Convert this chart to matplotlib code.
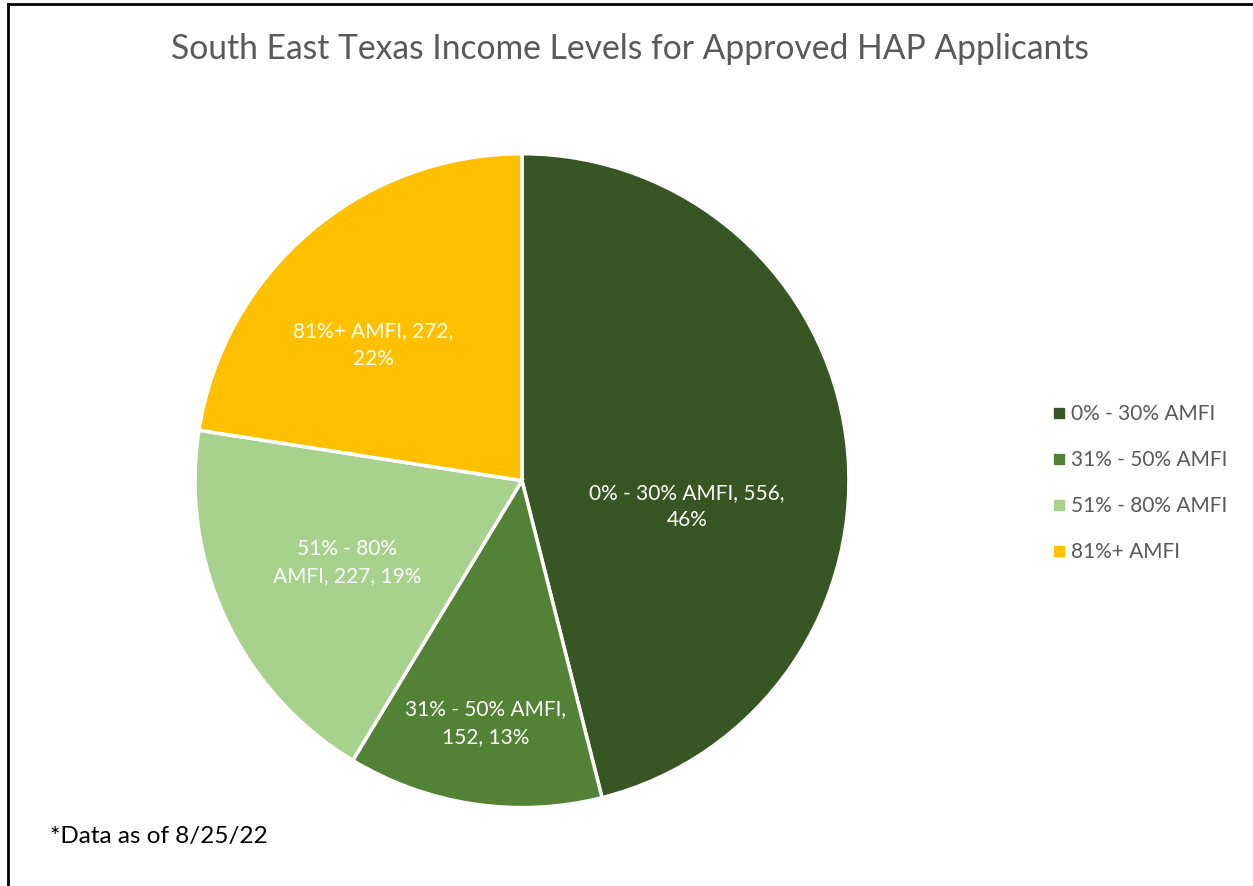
import numpy as np
from matplotlib import pyplot as plt
from matplotlib.lines import Line2D

plt.rcParams['font.family'] = ['Lato', 'DejaVu Sans']

categories = ['0% - 30% AMFI', '31% - 50% AMFI', '51% - 80% AMFI', '81%+ AMFI']
counts = [556, 152, 227, 272]
pct_labels = ['46%', '13%', '19%', '22%']
colors = ['#375623', '#538135', '#A9D18E', '#FFC000']

# label text (line breaks like the excel data labels)
label_text = ['0% - 30% AMFI, 556,\n46%',
              '31% - 50% AMFI,\n152, 13%',
              '51% - 80%\nAMFI, 227, 19%',
              '81%+ AMFI, 272,\n22%']
# placement of labels (fraction of radius, angle nudge in degrees)
label_r = [0.51, 0.75, 0.59, 0.615]
label_nudge = [-16, 0, 0, 7]

fig = plt.figure(figsize=(12.53, 8.86), dpi=100)
ax = fig.add_axes([0.1556, 0.0885, 0.522, 0.738])

wedges, _ = ax.pie(counts, colors=colors, startangle=90, counterclock=False,
                   wedgeprops=dict(edgecolor='white', linewidth=2.5))
ax.set_xlim(-1.0, 1.0)
ax.set_ylim(-1.0, 1.0)
ax.set_aspect('equal')

for w, txt, r, nd in zip(wedges, label_text, label_r, label_nudge):
    ang = np.deg2rad((w.theta1 + w.theta2) / 2 + nd)
    ax.text(r * np.cos(ang), r * np.sin(ang), txt, ha='center', va='center',
            color='white', fontsize=15, linespacing=1.45)

fig.text(0.503, 0.945, 'South East Texas Income Levels for Approved HAP Applicants',
         ha='center', va='center', fontsize=24.2, color='#595959')

handles = [Line2D([], [], marker='s', linestyle='', markersize=7,
                  markerfacecolor=c, markeredgecolor=c) for c in colors]
fig.legend(handles, categories, loc='center left', bbox_to_anchor=(0.826, 0.455),
           frameon=False, fontsize=15, labelcolor='#595959', handlelength=0.55,
           handletextpad=0.3, labelspacing=1.25)

fig.text(0.04, 0.056, '*Data as of 8/25/22', ha='left', va='center',
         fontsize=17.5, color='black')

# chart border (left and top visible)
fig.add_artist(Line2D([0.006, 0.006], [0, 0.996], transform=fig.transFigure,
                      color='black', linewidth=2))
fig.add_artist(Line2D([0.006, 1.0], [0.996, 0.996], transform=fig.transFigure,
                      color='black', linewidth=2))

fig.savefig('out.png', dpi=100, facecolor='white')
